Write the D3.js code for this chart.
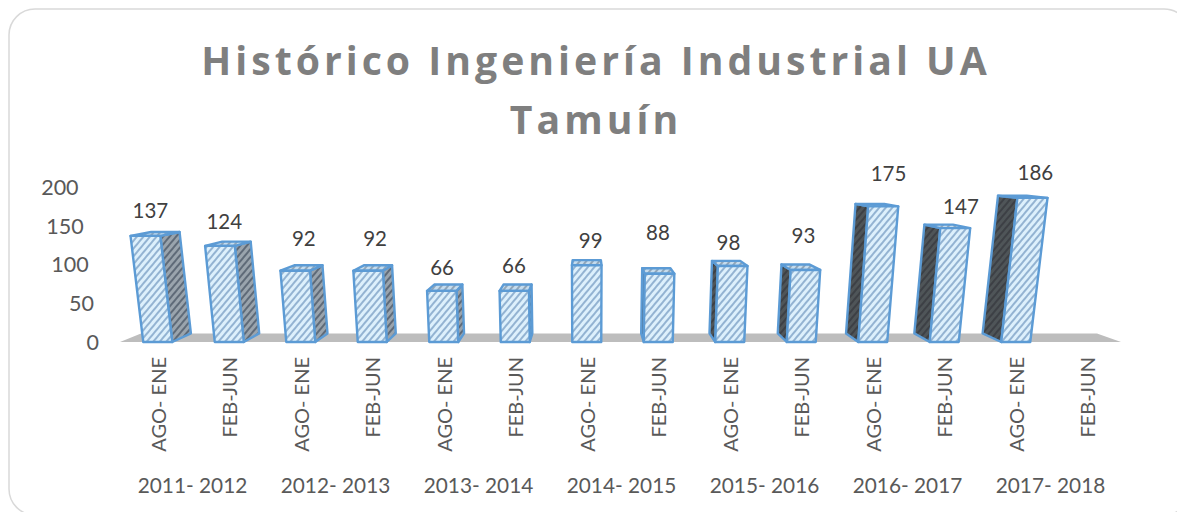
<!DOCTYPE html>
<html>
<head>
<meta charset="utf-8">
<script src="https://cdn.jsdelivr.net/npm/d3@7"></script>
<style>
  html, body { margin: 0; padding: 0; background: #fff; overflow: hidden; }
  text { font-family: Lato, "Open Sans", sans-serif; }
</style>
</head>
<body>
<svg id="chart" width="1177" height="512"></svg>
<script>
// data
var titleLines = ['Histórico Ingeniería Industrial UA', 'Tamuín'];
var periods = ['AGO- ENE', 'FEB-JUN'];
var years = ['2011- 2012', '2012- 2013', '2013- 2014', '2014- 2015', '2015- 2016', '2016- 2017', '2017- 2018'];
var students = [137, 124, 92, 92, 66, 66, 99, 88, 98, 93, 175, 147, 186, null];
var yTicks = [0, 50, 100, 150, 200];

// the value labels were moved by hand in the original: lift above the bar top, side shift
var labelLift = [21, 20, 26, 26, 17, 19, 19, 35, 18, 29, 30, 18, 23, 0];
var labelShift = [-4, -3, 3, 3, -2, -1, 5, 1, 0, 4, 13, 15, 14, 0];

var svg = d3.select('#chart');
var base = 342;
var vanish = [587, 151];   // perspective point of the box
var spread = 0.00027;      // uprights lean away from the centre
var depth = 0.045;

var rows = students.map(function(d, i){
  return {id: i, value: d, lift: labelLift[i], shift: labelShift[i]};
});

var x = d3.scaleBand()
  .domain(d3.range(students.length))
  .range([122, 1123]);

var y = d3.scaleLinear()
  .domain([0, 200])
  .range([base, 187]);

var barW = 29;

// world point: px along x, height in px, z 0 front / 1 back
function project(px, h, z){
  var sx = px + (px - vanish[0]) * spread * h;
  var sy = base - h;
  return [sx + (vanish[0] - sx) * depth * z, sy + (vanish[1] - sy) * depth * z];
}

var poly = d3.line().curve(d3.curveLinearClosed);

var defs = svg.append('defs');

function hatch(id, bg, fg, w){
  var p = defs.append('pattern')
    .attr('id', id)
    .attr('patternUnits', 'userSpaceOnUse')
    .attr('width', 5)
    .attr('height', 5)
    .attr('patternTransform', 'rotate(40)');
  p.append('rect').attr('width', 5).attr('height', 5).attr('fill', bg);
  p.append('line')
    .attr('x1', 2).attr('x2', 2).attr('y1', 0).attr('y2', 5)
    .attr('stroke', fg).attr('stroke-width', w);
}
hatch('front', '#ddf0fc', '#8fb0d0', 1.9);
hatch('top', '#c5dcee', '#8aa0b4', 1.8);
hatch('sideR', '#9aa4ad', '#5f6b78', 2);
hatch('sideL', '#4f5459', '#3c4044', 2);

defs.append('filter').attr('id', 'soft')
  .append('feGaussianBlur').attr('stdDeviation', 0.5);

// card
svg.append('rect')
  .attr('x', 9).attr('y', 9)
  .attr('width', 1181).attr('height', 506)
  .attr('rx', 26).attr('ry', 26)
  .attr('fill', '#fff')
  .attr('stroke', '#d9d9d9')
  .attr('stroke-width', 1.5);

// title
svg.append('g').selectAll('text')
  .data(titleLines)
  .enter()
  .append('text')
  .attr('x', 596)
  .attr('y', function(d, i){ return 75 + i * 59; })
  .attr('text-anchor', 'middle')
  .attr('fill', '#7f7f7f')
  .style('font-family', '"Open Sans", sans-serif')
  .style('font-weight', 700)
  .style('font-size', '39.2px')
  .style('letter-spacing', '4px')
  .text(function(d){ return d; });

// floor
var x0 = x.range()[0] - 2, x1 = x.range()[1] - 2;
svg.append('path')
  .attr('d', poly([project(x0, 0, 0), project(x1, 0, 0), project(x1, 0, 1), project(x0, 0, 1)]))
  .attr('fill', '#bdbdbd');

// bars
var bars = svg.append('g')
  .attr('filter', 'url(#soft)')
  .selectAll('g')
  .data(rows.filter(function(d){ return d.value !== null; }))
  .enter()
  .append('g');

function face(sel, cls, fill, pts){
  sel.append('path')
    .attr('class', cls)
    .attr('d', function(d){ return poly(pts(d)); })
    .attr('fill', fill)
    .attr('stroke', '#5b9bd5')
    .attr('stroke-width', 2.4)
    .attr('stroke-linejoin', 'round');
}

function left(d){ return x(d.id) + x.bandwidth() / 2 - barW / 2; }
function right(d){ return left(d) + barW; }
function high(d){ return base - y(d.value); }

// only the face turned to the centre can be seen
face(bars.filter(function(d){ return right(d) < vanish[0]; }), 'side', 'url(#sideR)', function(d){
  return [project(right(d), 0, 0), project(right(d), 0, 1), project(right(d), high(d), 1), project(right(d), high(d), 0)];
});
face(bars.filter(function(d){ return left(d) > vanish[0]; }), 'side', 'url(#sideL)', function(d){
  return [project(left(d), 0, 0), project(left(d), 0, 1), project(left(d), high(d), 1), project(left(d), high(d), 0)];
});
face(bars, 'top', 'url(#top)', function(d){
  return [project(left(d), high(d), 0), project(right(d), high(d), 0), project(right(d), high(d), 1), project(left(d), high(d), 1)];
});
face(bars, 'front', 'url(#front)', function(d){
  return [project(left(d), 0, 0), project(right(d), 0, 0), project(right(d), high(d), 0), project(left(d), high(d), 0)];
});

// value labels
svg.append('g').selectAll('text')
  .data(rows.filter(function(d){ return d.value !== null; }))
  .enter()
  .append('text')
  .attr('x', function(d){
    return project(left(d) + barW / 2, high(d), 0.5)[0] - 1 + d.shift;
  })
  .attr('y', function(d){
    return project(left(d), high(d), 1)[1] - d.lift;
  })
  .attr('dy', '.35em')
  .attr('text-anchor', 'middle')
  .attr('fill', '#404040')
  .style('font-size', '20.5px')
  .text(function(d){ return d.value; });

// y axis, its labels follow the lean of the box
var yAxis = svg.append('g')
  .call(d3.axisLeft(y).tickValues(yTicks).tickSize(0).tickPadding(0));
yAxis.select('.domain').remove();
yAxis.selectAll('.tick')
  .attr('transform', function(d){
    return 'translate(' + project(99, base - y(d), 0)[0] + ',' + (y(d) + 1) + ')';
  });
yAxis.selectAll('text')
  .attr('fill', '#595959')
  .style('font-family', 'Lato, sans-serif')
  .style('font-size', '21.5px');

// periods, rotated
var xAxis = svg.append('g')
  .attr('transform', 'translate(1,357)')
  .call(d3.axisBottom(x)
    .tickSize(0)
    .tickFormat(function(d){ return periods[d % 2]; }));
xAxis.select('.domain').remove();
xAxis.selectAll('text')
  .attr('transform', 'rotate(-90)')
  .attr('x', 0)
  .attr('y', 0)
  .attr('dy', '.35em')
  .attr('text-anchor', 'end')
  .attr('fill', '#595959')
  .style('font-family', 'Lato, sans-serif')
  .style('font-size', '20px');

// years, each centred under its two periods
svg.append('g').selectAll('text')
  .data(years)
  .enter()
  .append('text')
  .attr('x', function(d, i){ return x(i * 2) + x.step() - 1; })
  .attr('y', 486)
  .attr('dy', '.35em')
  .attr('text-anchor', 'middle')
  .attr('fill', '#595959')
  .style('font-size', '20.8px')
  .text(function(d){ return d; });
</script>
</body>
</html>
